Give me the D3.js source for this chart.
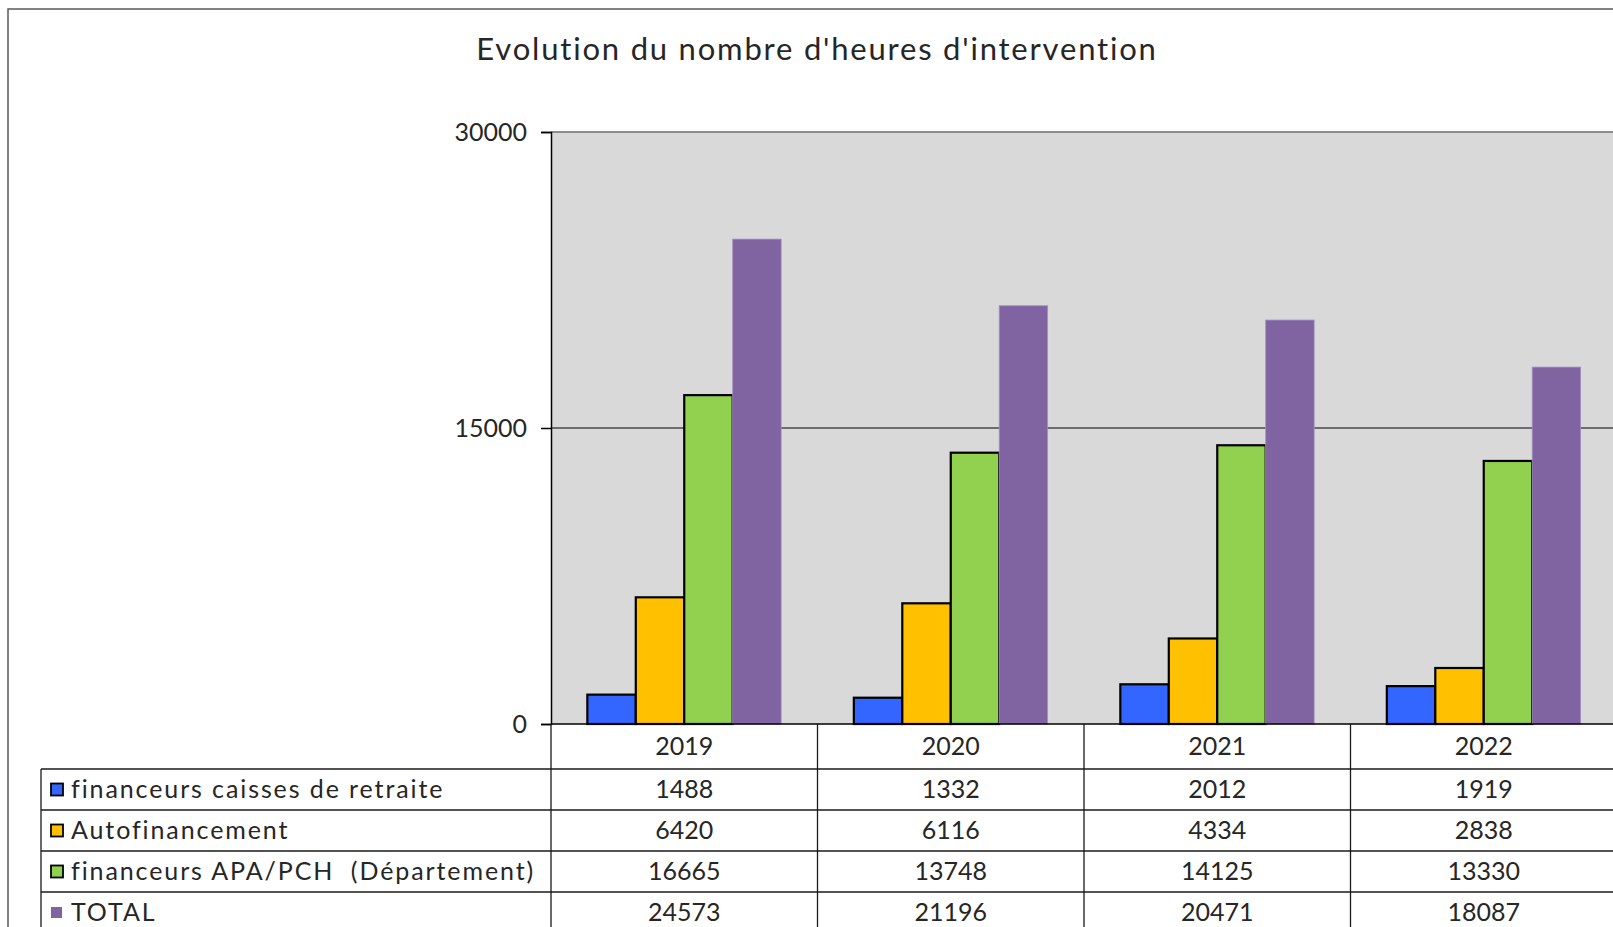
<!DOCTYPE html>
<html>
<head>
<meta charset="utf-8">
<script src="https://cdn.jsdelivr.net/npm/d3@7"></script>
<style>
	body { margin:0; background:#fff; overflow:hidden; }
	svg { display:block; }
	text { font-family: Lato, "Open Sans", sans-serif; fill:#262626; }
</style>
</head>
<body>
<svg id="chart" width="1613" height="927"></svg>
<script>
//chart values
var years = ["2019", "2020", "2021", "2022"];
var seriesNames = ["financeurs caisses de retraite", "Autofinancement", "financeurs APA/PCH  (Département)", "TOTAL"];
var caisses = [1488, 1332, 2012, 1919];
var autofin = [6420, 6116, 4334, 2838];
var apa = [16665, 13748, 14125, 13330];
var total = [24573, 21196, 20471, 18087];
var yTicks = [0, 15000, 30000];
var chartTitle = "Evolution du nombre d'heures d'intervention";

var seriesValues = [caisses, autofin, apa, total];
var seriesColors = ['#3366ff', '#ffc000', '#92d050', '#8064a2'];
var seriesOutline = [true, true, true, false];

//layout
var W = 1613, H = 927;
var plot = {left:551, top:132, bottom:724, right:1617};
var tableLeft = 41, headerH = 45, rowH = 41;

var svg = d3.select("#chart");

//outer frame of the chart object (runs past the picture on the right and bottom)
svg.append("rect")
	.attr("x", 8).attr("y", 9)
	.attr("width", W + 20).attr("height", H + 20)
	.attr("fill", "#fff")
	.attr("stroke", "#595959")
	.attr("stroke-width", 1.5);

svg.append("text")
	.attr("x", 817).attr("y", 49)
	.attr("dy", "0.35em")
	.attr("text-anchor", "middle")
	.style("font-size", "31px")
	.style("letter-spacing", "1.8px")
	.text(chartTitle);

var x = d3.scaleBand().domain(years).range([plot.left, plot.right]).padding(0);
var xs = d3.scaleBand().domain(d3.range(seriesNames.length))
	.range([0, x.bandwidth()]).paddingInner(0).paddingOuter(0.75);
var y = d3.scaleLinear().domain([0, 30000]).range([plot.bottom, plot.top]);

//plot area
svg.append("rect")
	.attr("x", plot.left).attr("y", plot.top)
	.attr("width", plot.right - plot.left).attr("height", plot.bottom - plot.top)
	.attr("fill", "#d9d9d9");

//gridlines
svg.append("g").selectAll("line")
	.data(yTicks.filter(function(t){ return t > 0; }))
	.join("line")
	.attr("x1", plot.left).attr("x2", plot.right)
	.attr("y1", function(d){ return y(d); }).attr("y2", function(d){ return y(d); })
	.attr("stroke", function(d){ return d == 30000 ? "#8c8c8c" : "#000"; })
	.attr("stroke-width", function(d){ return d == 30000 ? 2 : 1.2; });

//bars
seriesValues.forEach(function(vals, s){
	svg.append("g").selectAll("rect")
		.data(vals)
		.join("rect")
		.attr("x", function(d, i){ return x(years[i]) + xs(s); })
		.attr("y", function(d){ return y(d); })
		.attr("width", xs.bandwidth())
		.attr("height", function(d){ return y(0) - y(d); })
		.attr("fill", seriesColors[s])
		.attr("stroke", seriesOutline[s] ? "#000" : "#a590c4")
		.attr("stroke-width", seriesOutline[s] ? 2.2 : 0.8);
});

//y axis
var yAxis = d3.axisLeft(y).tickValues(yTicks).tickSize(10).tickPadding(14).tickFormat(d3.format("d"));
var ya = svg.append("g")
	.attr("transform", "translate(" + plot.left + ",0)")
	.call(yAxis);
ya.select(".domain").attr("stroke", "#000").attr("stroke-width", 1.5);
ya.selectAll(".tick line").attr("stroke", "#000").attr("stroke-width", 1.5);
ya.selectAll(".tick text")
	.style("font-size", "25px")
	.style("font-family", "Lato, sans-serif")
	.attr("fill", "#262626");

//x axis line at zero
svg.append("line")
	.attr("x1", plot.left).attr("x2", plot.right)
	.attr("y1", y(0)).attr("y2", y(0))
	.attr("stroke", "#000").attr("stroke-width", 1.5);

//data table under the chart
var tableTop = plot.bottom + headerH;
var rowsY = d3.range(seriesNames.length + 1).map(function(r){ return tableTop + r * rowH; });
var tbl = svg.append("g");

tbl.selectAll("line.h")
	.data(rowsY)
	.join("line")
	.attr("class", "h")
	.attr("x1", tableLeft).attr("x2", plot.right)
	.attr("y1", function(d){ return d; }).attr("y2", function(d){ return d; })
	.attr("stroke", "#1a1a1a").attr("stroke-width", 1.3);

var colEdges = years.map(function(yr){ return x(yr); }).concat([plot.right]);
tbl.selectAll("line.v")
	.data(colEdges)
	.join("line")
	.attr("class", "v")
	.attr("x1", function(d){ return d; }).attr("x2", function(d){ return d; })
	.attr("y1", plot.bottom).attr("y2", H + 20)
	.attr("stroke", "#1a1a1a").attr("stroke-width", 1.3);

tbl.append("line")
	.attr("x1", tableLeft).attr("x2", tableLeft)
	.attr("y1", tableTop).attr("y2", H + 20)
	.attr("stroke", "#1a1a1a").attr("stroke-width", 1.3);

//year headers
tbl.selectAll("text.yr")
	.data(years)
	.join("text")
	.attr("class", "yr")
	.attr("x", function(d){ return x(d) + x.bandwidth() / 2; })
	.attr("y", plot.bottom + headerH / 2)
	.attr("dy", "0.35em")
	.attr("text-anchor", "middle")
	.style("font-size", "25px")
	.text(function(d){ return d; });

//legend keys + names + values
seriesNames.forEach(function(name, s){
	var cy = tableTop + s * rowH + rowH / 2;
	var k = seriesOutline[s] ? 12 : 11;
	tbl.append("rect")
		.attr("x", 51).attr("y", cy - k / 2)
		.attr("width", k).attr("height", k)
		.attr("fill", seriesColors[s])
		.attr("stroke", seriesOutline[s] ? "#000" : "none")
		.attr("stroke-width", 1.8);
	tbl.append("text")
		.attr("x", 71).attr("y", cy)
		.attr("dy", "0.35em")
		.style("font-size", "25px")
		.style("letter-spacing", "1.9px")
		.style("white-space", "pre")
		.text(name);
	tbl.selectAll("text.v" + s)
		.data(seriesValues[s])
		.join("text")
		.attr("class", "v" + s)
		.attr("x", function(d, i){ return x(years[i]) + x.bandwidth() / 2; })
		.attr("y", cy)
		.attr("dy", "0.35em")
		.attr("text-anchor", "middle")
		.style("font-size", "25px")
		.text(function(d){ return d; });
});
</script>
</body>
</html>
